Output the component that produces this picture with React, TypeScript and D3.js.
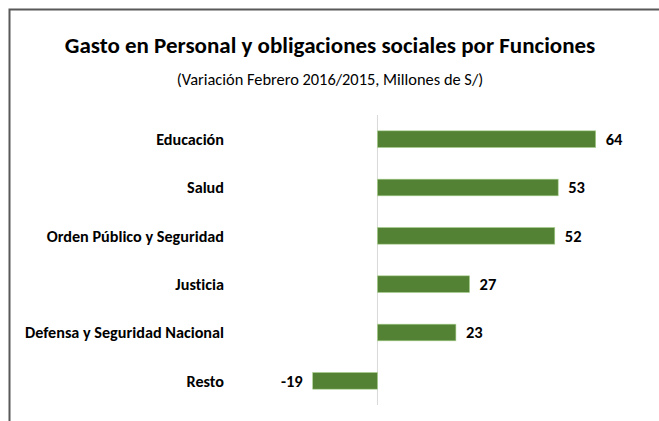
import { scaleBand, scaleLinear } from "d3";

const categories = [
  "Educación",
  "Salud",
  "Orden Público y Seguridad",
  "Justicia",
  "Defensa y Seguridad Nacional",
  "Resto"
];
const values = [64, 53, 52, 27, 23, -19];

const title = "Gasto en Personal y obligaciones sociales por Funciones";
const subtitle = "(Variación Febrero 2016/2015, Millones de S/)";

const font = "Carlito, 'Liberation Sans Narrow', 'Open Sans', sans-serif";

export default function App() {
  const width = 659;
  const height = 421;
  const plot = { left: 312.7, right: 595.7, top: 115, bottom: 405 };

  const xScale = scaleLinear().domain([-19, 64]).range([plot.left, plot.right]);
  const yScale = scaleBand<string>()
    .domain(categories)
    .range([plot.top, plot.bottom])
    .paddingInner(0.655)
    .paddingOuter(0.3275);
  const barH = yScale.bandwidth();
  const zero = xScale(0);

  return (
    <svg
      width={width}
      height={height}
      viewBox={`0 0 ${width} ${height}`}
      style={{ position: "absolute", left: 0, top: 0, background: "#fff", fontVariantLigatures: "none" }}
      fontFamily={font}
    >
      <rect x={9.5} y={9.5} width={700} height={500} fill="#fff" stroke="#595959" strokeWidth={2} />

      <text x={330} y={53} textAnchor="middle" fontWeight="bold" fontSize={23} fill="#000">
        {title}
      </text>
      <text x={330} y={85} textAnchor="middle" fontSize={16.4} fill="#000">
        {subtitle}
      </text>

      <line x1={zero} x2={zero} y1={plot.top} y2={plot.bottom} stroke="#d9d9d9" strokeWidth={1} />

      {categories.map((cat, i) => {
        const v = values[i];
        const y = yScale(cat) ?? 0;
        const x0 = Math.min(xScale(v), zero);
        const w = Math.abs(xScale(v) - zero);
        const cy = y + barH / 2;
        return (
          <g key={cat}>
            <rect x={x0} y={y} width={w} height={barH} fill="#548235" stroke="#a9d18e" strokeWidth={0.6} />
            <text x={224} y={cy} dy="0.35em" textAnchor="end" fontWeight="bold" fontSize={16.2} fill="#000">
              {cat}
            </text>
            <text
              x={v >= 0 ? xScale(v) + 10 : xScale(v) - 10}
              y={cy}
              dy="0.35em"
              textAnchor={v >= 0 ? "start" : "end"}
              fontWeight="bold"
              fontSize={16.5}
              fill="#000"
            >
              {v}
            </text>
          </g>
        );
      })}
    </svg>
  );
}
